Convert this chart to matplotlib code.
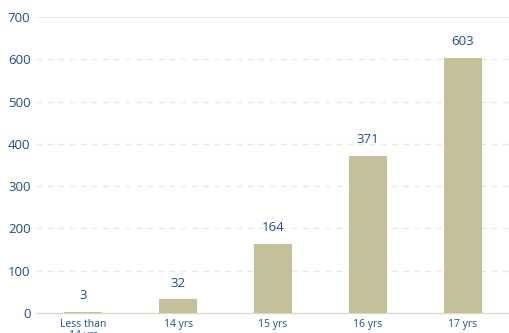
import matplotlib.pyplot as plt

# Age groups and counts
age_groups = ['Less than\n14 yrs', '14 yrs', '15 yrs', '16 yrs', '17 yrs']
counts = [3, 32, 164, 371, 603]
y_ticks = [0, 100, 200, 300, 400, 500, 600, 700]

bar_color = '#c4c09a'
text_color = '#1f4e8c'
grid_color = '#ebe9dc'

plt.rcParams['font.family'] = ['Open Sans', 'DejaVu Sans']

fig = plt.figure(figsize=(5.1, 3.33), dpi=100)
ax = fig.add_axes([36 / 510, 20 / 333, 474 / 510, 296 / 333])

x = range(len(counts))
ax.bar(x, counts, width=0.4, color=bar_color, zorder=3)

for i, v in enumerate(counts):
    ax.annotate(str(v), (i, v), xytext=(0, 7), textcoords='offset points',
                ha='center', va='bottom', fontsize=9.5, color=text_color)

ax.set_xlim(-0.5, 4.5)
ax.set_ylim(0, 700)
ax.set_yticks(y_ticks)
ax.set_yticklabels([str(t) for t in y_ticks], fontsize=9.5, color=text_color)
ax.set_xticks(list(x))
ax.set_xticklabels(age_groups, fontsize=7.5, color=text_color,
                   linespacing=1.0, va='top')
ax.tick_params(axis='both', length=0)
ax.tick_params(axis='y', pad=4)
ax.tick_params(axis='x', pad=4)

# dashed gridlines, solid line on top
for t in y_ticks[1:-1]:
    ax.axhline(t, color=grid_color, linestyle=(0, (4, 4)), linewidth=1, zorder=1)
ax.axhline(700, color=grid_color, linewidth=1.2, zorder=1)

for s in ['top', 'right', 'left']:
    ax.spines[s].set_visible(False)
ax.spines['bottom'].set_color('#dcd8c4')
ax.spines['bottom'].set_linewidth(1)
ax.spines['bottom'].set_zorder(2)

fig.savefig('out.png', dpi=100)
